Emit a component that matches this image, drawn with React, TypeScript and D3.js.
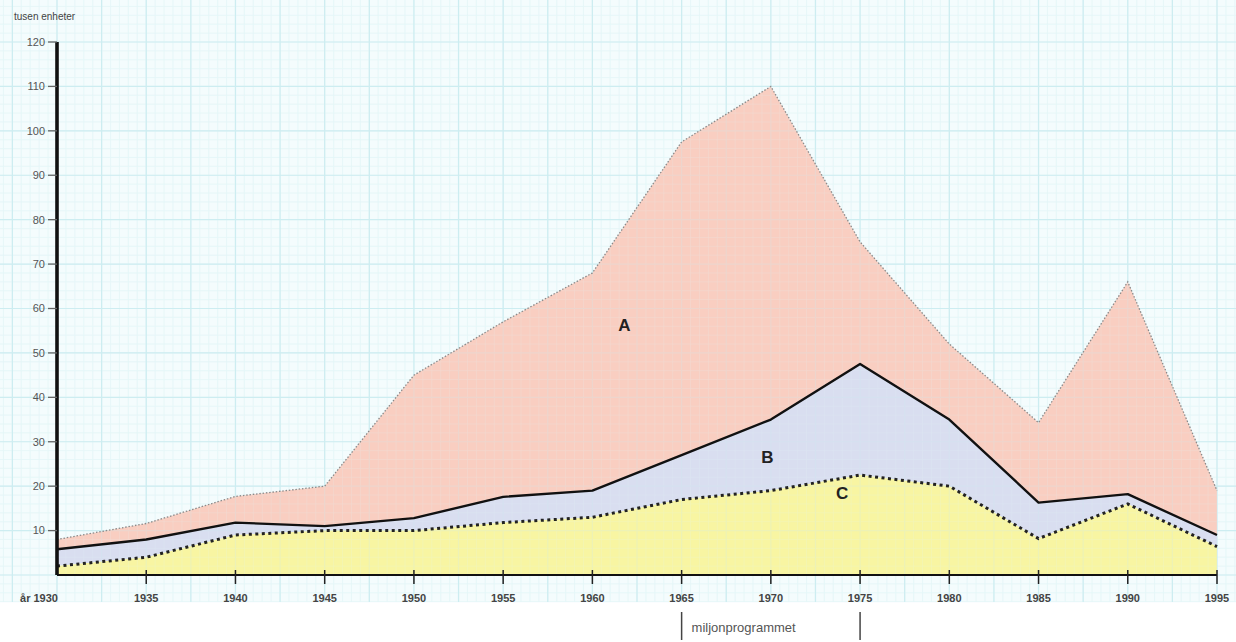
import React from "react";
import * as d3 from "d3";

const years = [1930, 1935, 1940, 1945, 1950, 1955, 1960, 1965, 1970, 1975, 1980, 1985, 1990, 1995];
// C: bottom layer (dotted line), B: cumulative up to solid line, A: total (top)
const seriesC = [2, 4, 9, 10, 10, 11.8, 13, 17, 19, 22.5, 20, 8.2, 16, 6.4];
const seriesB = [5.8, 8, 11.8, 11, 12.8, 17.6, 19, 27, 35, 47.5, 35, 16.3, 18.2, 9];
const seriesA = [8, 11.6, 17.7, 20, 45, 57, 68, 97.5, 110, 75, 52, 34.3, 66, 19];
const yTicks = [10, 20, 30, 40, 50, 60, 70, 80, 90, 100, 110, 120];
const xTickLabels = ["år 1930", "1935", "1940", "1945", "1950", "1955", "1960", "1965", "1970", "1975", "1980", "1985", "1990", "1995"];
const areaLabels = [
  { text: "A", year: 1961.8, value: 56.3 },
  { text: "B", year: 1969.8, value: 26.6 },
  { text: "C", year: 1974, value: 18.5 },
];
const yLabel = "tusen enheter";
const bracketLabel = "miljonprogrammet";
const bracketYears = [1965, 1975];

const W = 1236;
const H = 642;

export default function App() {
  const x = d3.scaleLinear().domain([1930, 1995]).range([57, 1217]);
  const y = d3.scaleLinear().domain([0, 120]).range([575, 42]);

  const idx = years.map((_, i) => i);
  const areaGen = (lo: number[] | null, hi: number[]) =>
    d3
      .area<number>()
      .x((i) => x(years[i]))
      .y0((i) => y(lo ? lo[i] : 0))
      .y1((i) => y(hi[i]))(idx) || "";
  const lineGen = (vals: number[]) =>
    d3
      .line<number>()
      .x((i) => x(years[i]))
      .y((i) => y(vals[i]))(idx) || "";

  // graph paper grid: major every 2.5 years / 10 units, minor 5 per major
  const majorX = x(1932.5) - x(1930);
  const majorY = y(0) - y(10);
  const minorLinesV: number[] = [];
  const majorLinesV: number[] = [];
  for (let k = -10; k <= 150; k++) {
    const px = x(1930) + (k * majorX) / 5;
    if (px < 0 || px > W) continue;
    if (k % 5 === 0) majorLinesV.push(px);
    else minorLinesV.push(px);
  }
  const minorLinesH: number[] = [];
  const majorLinesH: number[] = [];
  for (let k = -10; k <= 70; k++) {
    const py = y(0) - (k * majorY) / 5;
    if (py < 0 || py > 602) continue;
    if (k % 5 === 0) majorLinesH.push(py);
    else minorLinesH.push(py);
  }

  const gridTop = 0;
  const gridBottom = 602;

  const grid = (opacity: number) => (
    <g opacity={opacity}>
      {minorLinesV.map((px, i) => (
        <line key={"mv" + i} x1={px} x2={px} y1={gridTop} y2={gridBottom} stroke="#e4f6f8" strokeWidth={0.7} />
      ))}
      {minorLinesH.map((py, i) => (
        <line key={"mh" + i} x1={0} x2={W} y1={py} y2={py} stroke="#e4f6f8" strokeWidth={0.7} />
      ))}
      {majorLinesV.map((px, i) => (
        <line key={"Mv" + i} x1={px} x2={px} y1={gridTop} y2={gridBottom} stroke="#cdedf1" strokeWidth={1.2} />
      ))}
      {majorLinesH.map((py, i) => (
        <line key={"Mh" + i} x1={0} x2={W} y1={py} y2={py} stroke="#cdedf1" strokeWidth={1.2} />
      ))}
    </g>
  );

  return (
    <svg
      width={W}
      height={H}
      style={{ position: "absolute", left: 0, top: 0, background: "#ffffff" }}
      fontFamily="'Liberation Sans', Arial, sans-serif"
    >
      <rect x={0} y={0} width={W} height={gridBottom} fill="#f4fcfd" />
      {grid(1)}
      <path d={areaGen(seriesB, seriesA)} fill="#f9cec1" />
      <path d={areaGen(seriesC, seriesB)} fill="#d9def0" />
      <path d={areaGen(null, seriesC)} fill="#f8f5a2" />
      {grid(0.25)}
      <path d={lineGen(seriesA)} fill="none" stroke="#8a8a8a" strokeWidth={1.3} strokeDasharray="1.5 1.8" />
      <path d={lineGen(seriesB)} fill="none" stroke="#111" strokeWidth={2.4} strokeLinejoin="round" />
      <path d={lineGen(seriesC)} fill="none" stroke="#222" strokeWidth={3} strokeDasharray="3 3.5" />

      {/* axes */}
      <line x1={x(1930)} x2={x(1995)} y1={y(0)} y2={y(0)} stroke="#111" strokeWidth={2.2} />
      <line x1={x(1930)} x2={x(1930)} y1={y(120)} y2={y(0)} stroke="#111" strokeWidth={3.6} />
      {yTicks.map((t) => (
        <g key={"yt" + t}>
          <line x1={x(1930) - 9} x2={x(1930)} y1={y(t)} y2={y(t)} stroke="#666" strokeWidth={1.3} />
          <text x={x(1930) - 12} y={y(t)} dy="0.35em" textAnchor="end" fontSize={11} fill="#555">
            {t}
          </text>
        </g>
      ))}
      {years.map((yr, i) => (
        <g key={"xt" + yr}>
          {i > 0 && <line x1={x(yr)} x2={x(yr)} y1={y(0) - 5} y2={y(0) + 9} stroke="#222" strokeWidth={1.5} />}
          <text
            x={i === 0 ? x(yr) - 18 : x(yr)}
            y={602}
            textAnchor="middle"
            fontSize={11}
            fontWeight="bold"
            fill="#444"
          >
            {xTickLabels[i]}
          </text>
        </g>
      ))}
      <text x={14} y={20} fontSize={10} fill="#444">
        {yLabel}
      </text>

      {areaLabels.map((l) => (
        <text
          key={l.text}
          x={x(l.year)}
          y={y(l.value)}
          textAnchor="middle"
          dy="0.35em"
          fontSize={17}
          fontWeight="bold"
          fill="#222"
        >
          {l.text}
        </text>
      ))}

      {/* miljonprogrammet bracket */}
      {bracketYears.map((yr) => (
        <line key={"br" + yr} x1={x(yr)} x2={x(yr)} y1={612} y2={640} stroke="#444" strokeWidth={1.5} />
      ))}
      <text x={x(bracketYears[0]) + 10} y={632} fontSize={13} fill="#555">
        {bracketLabel}
      </text>
    </svg>
  );
}
